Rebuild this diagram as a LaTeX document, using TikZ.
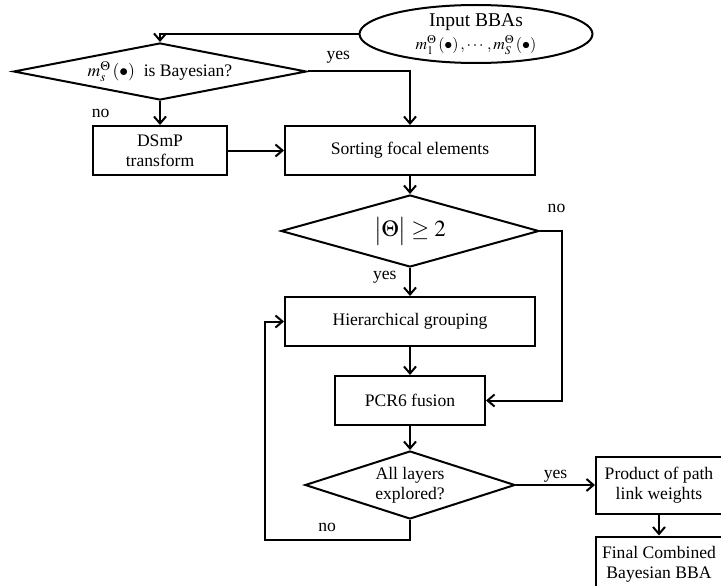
\documentclass[tikz,border=0pt]{standalone}
\usepackage{amsmath}
\usepackage{mathptmx}
\usepackage{fontspec}
\setmainfont{Liberation Serif}
\usetikzlibrary{
  shapes, shapes.geometric,
  arrows.meta,
  positioning, calc
}
\newcommand{\flowfont}{\fontsize{17.6pt}{20pt}\selectfont}
\tikzset{
  % Process box
  pbox/.style={
    rectangle, draw=black, line width=2pt,
    align=center, font=\flowfont,
    minimum height=49pt, inner sep=2pt
  },
  % Decision diamond
  decision/.style={
    diamond, draw=black, line width=2pt,
    align=center, font=\flowfont, inner sep=1pt
  },
  % Input ellipse
  terminal/.style={
    ellipse, draw=black, line width=2pt,
    align=center, font=\flowfont, inner sep=0pt
  },
  % Arrows
  arr/.style={-{Straight Barb[length=7pt,width=12pt]}, line width=2pt},
  % Edge label
  elabel/.style={font=\flowfont, inner sep=1.5pt},
}

\begin{document}
\begin{tikzpicture}[x=1pt, y=-1pt, node distance=24pt and 56pt]
  \useasboundingbox (0,0) rectangle (721,586);

  %% Main column
  \node[pbox, minimum width=250pt] (sort) at (410,150.5) {Sorting focal elements};
  \node[decision, aspect=3.58, minimum width=258pt, minimum height=72pt,
        below=18pt of sort]
    (card) {\fontsize{23pt}{26pt}\selectfont $\bigl|\Theta\bigr|\geq 2$};
  \node[pbox, minimum width=250pt, below=28pt of card] (hier) {Hierarchical grouping};
  \node[pbox, minimum width=150pt, below=28pt of hier] (pcr) {PCR6 fusion};
  \node[decision, aspect=3.1, minimum width=210pt, minimum height=68pt,
        below=24pt of pcr]
    (layers) {All layers\\explored?};

  %% Left branch
  \node[pbox, minimum width=134pt, left=56pt of sort] (dsmp) {DSmP\\transform};
  \node[decision, aspect=5.1, minimum width=293pt, minimum height=57pt,
        above=24pt of dsmp]
    (bayes) {$m_s^{\Theta}\left(\bullet\right)$\ \ is Bayesian?};

  %% Input
  \node[terminal, minimum width=233pt, minimum height=58pt] (input) at (476,34)
    {{\fontsize{19.5pt}{21pt}\selectfont Input BBAs}\\[3pt]
     {\fontsize{16pt}{18pt}\selectfont $m_1^{\Theta}\left(\bullet\right),\cdots,m_S^{\Theta}\left(\bullet\right)$}};

  %% Output column
  \node[pbox, minimum width=126pt, minimum height=57pt, right=79pt of layers]
    (prod) {Product of path\\link weights};
  \node[pbox, minimum width=126pt, minimum height=56pt, below=21pt of prod]
    (final) {Final Combined\\Bayesian BBA};

  %% Bend points
  \coordinate (cardR) at ($(card.east)+(22,0)$);
  \coordinate (loopL) at ($(layers.south)+(-145,20)$);

  %% Arrows
  \draw[arr] (input.west) -| (bayes.north);
  \draw[arr] (bayes.east) -| node[elabel, pos=0.15, above=6pt]{yes} (sort.north);
  \draw[arr] (bayes.south) -- node[elabel, left=48pt]{no} (dsmp.north);
  \draw[arr] (dsmp.east) -- (sort.west);
  \draw[arr] (sort.south) -- (card.north);
  \draw[arr] (card.east) -- node[elabel, pos=0.75, above=16pt]{no} (cardR) |- (pcr.east);
  \draw[arr] (card.south) -- node[elabel, pos=0.32, left=11pt]{yes} (hier.north);
  \draw[arr] (hier.south) -- (pcr.north);
  \draw[arr] (pcr.south) -- (layers.north);
  \draw[arr] (layers.east) -- node[elabel, above=0pt]{yes} (prod.west);
  \draw[arr] (layers.south) |- node[elabel, pos=0.786, above=6pt]{no} (loopL) |- (hier.west);
  \draw[arr] (prod.south) -- (final.north);

\end{tikzpicture}
\end{document}
